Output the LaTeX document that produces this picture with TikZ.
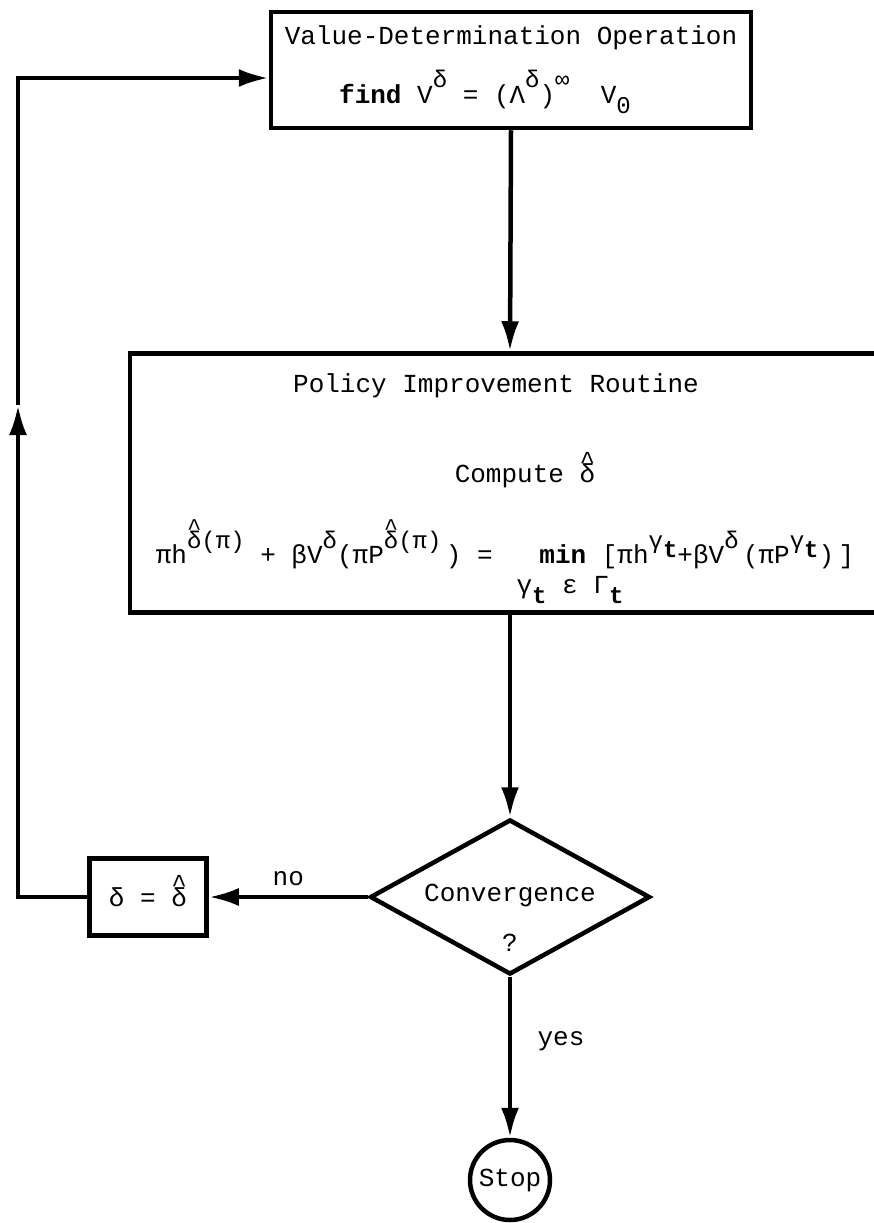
\documentclass[tikz,border=0pt]{standalone}
\usepackage{fontspec}
\setmainfont{Liberation Mono}
\usetikzlibrary{shapes.geometric,arrows.meta}
\newcommand{\supscr}[1]{\raisebox{0.6em}{\fontsize{24}{24}\selectfont #1}}
\newcommand{\subscr}[1]{\raisebox{-0.4em}{\fontsize{24}{24}\selectfont #1}}
\newcommand{\dhat}{{\ooalign{δ\cr\hidewidth\raisebox{0.52em}{\textasciicircum}\hidewidth\cr}}}
\begin{document}
\begin{tikzpicture}[x=1pt,y=-1pt,
    every node/.style={font=\fontsize{26}{34}\selectfont},
    box/.style={draw,rectangle,line width=4.5pt,inner sep=0pt},
    flow/.style={line width=4.5pt,-{Latex[length=30pt,width=18pt]}}]
  \useasboundingbox (0,0) rectangle (873,1223);

  % Value-determination box
  \node [box,minimum width=480,minimum height=116] (valbox) at (511,70) {};
  \node (valhead) at (511,38) {Value-Determination Operation};
  \node (valfind) at (485,92) {\textbf{find}\ V\supscr{δ} = (Λ\supscr{δ})\supscr{∞}\ \ V\subscr{0}};

  % Policy improvement box
  \node [box,minimum width=760,minimum height=259] (polbox) at (510,483) {};
  \node (polhead) at (496,386) {Policy Improvement Routine};
  \node (polcomp) at (525,476) {Compute \dhat};
  \node (polform) at (505,550) {πh\supscr{\dhat(π)}\ + βV\supscr{δ}(πP\supscr{\dhat(π)}\,) = \ \ \textbf{min} [πh\supscr{γ\subscr{\textbf{t}}}+βV\supscr{δ}\,(πP\supscr{γ\subscr{\textbf{t}}})\,]};
  \node (polmin) at (570,590) {γ\subscr{\textbf{t}} ε Γ\subscr{\textbf{t}}};

  % Convergence test, update and stop
  \node [draw,diamond,line width=4.5pt,inner sep=0pt,aspect=1.8,
    minimum width=280,minimum height=155] (conv) at (510,897) {};
  \node (convtext) at (510,895) {Convergence};
  \node (convq) at (510,943) {?};
  \node [box,minimum width=117,minimum height=77] (newpol) at (148,897) {δ = \dhat};
  \node [draw,circle,line width=4.5pt,inner sep=0pt,minimum size=80] (stop) at (510,1180) {Stop};

  % Connectors
  \draw [flow] (valbox.south) -- (polbox.north);
  \draw [flow] (polbox.south) -- (conv.north);
  \draw [flow] (conv.west) -- (newpol.east) node [midway,above=6pt] (no) {no};
  \draw [flow] (conv.south) -- (stop.north) node [pos=0.4,right=22pt] (yes) {yes};
  % Loop back to the top
  \coordinate (looptip) at (18,405);
  \draw [flow] (newpol.west) -| (looptip);
  \draw [flow] (looptip) |- ([yshift=-8pt]valbox.west);
\end{tikzpicture}
\end{document}
